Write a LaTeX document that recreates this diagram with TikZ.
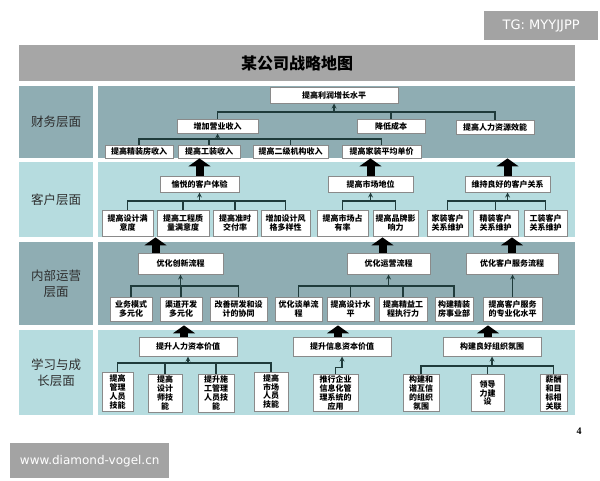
\documentclass[tikz,border=0pt]{standalone}
\usepackage{fontspec}
\setmainfont{Noto Sans CJK SC}
\newfontfamily\wmfont{DejaVu Sans}
\newfontfamily\numfont{Liberation Serif}
\usepackage{tikz}
\usetikzlibrary{positioning}
\usetikzlibrary{calc}
\usetikzlibrary{arrows.meta}

\definecolor{rowdark}{HTML}{8FADB3}
\definecolor{rowlight}{HTML}{B6DCDF}
\definecolor{titlegray}{HTML}{A6A6A6}
\definecolor{wmgray}{HTML}{A3A3A3}
\definecolor{boxgray}{HTML}{8A8A8A}
\definecolor{linedark}{HTML}{1F3B3B}
\definecolor{labeltext}{HTML}{2E2E2E}

\tikzstyle{panel} = [rectangle, anchor=north west, inner sep=0pt]
\tikzstyle{rowlabel} = [panel, text=labeltext, align=center, font={\fontsize{12.5}{16}\selectfont}]
\tikzstyle{box} = [rectangle, draw=boxgray, fill=white, line width=1pt, align=center, inner sep=1pt, font={\fontsize{8}{9.8}\selectfont\bfseries}]
\tikzstyle{tallbox} = [box, font={\fontsize{8}{8.8}\selectfont\bfseries}]
\tikzstyle{conn} = [draw=linedark, line width=1.2pt]
\tikzstyle{arrow} = [conn, ->, >=stealth]
\tikzstyle{bigarrow} = [line width=8pt, -{Triangle[width=22pt, length=8pt]}]
\tikzstyle{wmbox} = [panel, fill=wmgray, text=white]

\begin{document}
\begin{tikzpicture}[x=1pt, y=-1pt]
    \useasboundingbox (0,0) rectangle (600,480);

    % --- Watermarks ---
    \node[wmbox, minimum width=114pt, minimum height=29pt, font={\wmfont\fontsize{13}{15}\selectfont}]
        at (484, 11) (tg_mark) {TG: MYYJJPP};
    \node[wmbox, minimum width=159pt, minimum height=35pt, font={\wmfont\fontsize{12}{14}\selectfont}]
        at (10, 443) (site_mark) {www.diamond-vogel.cn};
    \node[font={\numfont\bfseries\fontsize{10}{12}\selectfont}] at (579, 431) (page_no) {4};

    % --- Title ---
    \node[panel, fill=titlegray, minimum width=556pt, minimum height=36pt,
        font={\fontsize{16}{18}\selectfont\bfseries}] at (19, 45) (title) {某公司战略地图};

    % --- Rows ---
    \node[rowlabel, fill=rowdark, minimum width=74pt, minimum height=72pt] at (19, 86) (fin_label) {财务层面};
    \node[panel, fill=rowdark, minimum width=477pt, minimum height=72pt] at (98, 86) (fin_panel) {};

    \node[rowlabel, fill=rowlight, minimum width=74pt, minimum height=75pt] at (19, 162) (cust_label) {客户层面};
    \node[panel, fill=rowlight, minimum width=477pt, minimum height=75pt] at (98, 162) (cust_panel) {};

    \node[rowlabel, fill=rowdark, minimum width=74pt, minimum height=83pt] at (19, 242) (proc_label) {内部运营\\层面};
    \node[panel, fill=rowdark, minimum width=477pt, minimum height=83pt] at (98, 242) (proc_panel) {};

    \node[rowlabel, fill=rowlight, minimum width=74pt, minimum height=85pt] at (19, 330) (learn_label) {学习与成\\长层面};
    \node[panel, fill=rowlight, minimum width=477pt, minimum height=85pt] at (98, 330) (learn_panel) {};

    % --- Financial ---

    % top goal
    \node[box, minimum width=128pt, minimum height=16pt] at (334, 95) (profit) {提高利润增长水平};

    % middle level
    \node[box, minimum width=81pt, minimum height=14pt] at (217.5, 126) (revenue) {增加营业收入};
    \node[box, minimum width=68pt, minimum height=14pt] at (391, 126) (cost) {降低成本};
    \node[box, minimum width=78pt, minimum height=14pt] at (495, 127) (hr_eff) {提高人力资源效能};

    % bottom level
    \node[box, minimum width=68pt, minimum height=13pt] at (139, 151.5) (fin_a) {提高精装房收入};
    \node[box, minimum width=62pt, minimum height=13pt] at (209, 151.5) (fin_b) {提高工装收入};
    \node[box, minimum width=75pt, minimum height=13pt] at (290.5, 151.5) (fin_c) {提高二级机构收入};
    \node[box, minimum width=79pt, minimum height=13pt] at (381.5, 151.5) (fin_d) {提高家装平均单价};

    % lines from middle level up to profit
    \coordinate (fin_bus1) at (0, 112);
    \draw[conn] (revenue.north) |- (hr_eff.north |- fin_bus1) -- (hr_eff.north);
    \draw[conn] (cost.north) -- (cost.north |- fin_bus1);
    \draw[arrow] (profit.south |- fin_bus1) -- (profit.south);

    % lines from bottom level up to revenue
    \coordinate (fin_bus2) at (0, 139);
    \draw[conn] (fin_a.north) |- (fin_d.north |- fin_bus2) -- (fin_d.north);
    \foreach \n in {fin_b, fin_c} \draw[conn] (\n.north) -- (\n.north |- fin_bus2);
    \draw[arrow] (revenue.south |- fin_bus2) -- (revenue.south);

    % --- Customer ---
    \node[box, minimum width=79pt, minimum height=16pt] at (199.5, 184) (joy) {愉悦的客户体验};
    \node[box, minimum width=85pt, minimum height=16pt] at (370.5, 184) (market) {提高市场地位};
    \node[box, minimum width=85pt, minimum height=16pt] at (507.5, 184) (relation) {维持良好的客户关系};

    \node[box, minimum width=51pt, minimum height=26pt] at (127.5, 223) (cust_a) {提高设计满\\意度};
    \node[box, minimum width=52pt, minimum height=26pt] at (183, 223) (cust_b) {提高工程质\\量满意度};
    \node[box, minimum width=44pt, minimum height=26pt] at (235, 223) (cust_c) {提高准时\\交付率};
    \node[box, minimum width=49pt, minimum height=26pt] at (285.5, 223) (cust_d) {增加设计风\\格多样性};
    \node[box, minimum width=51pt, minimum height=26pt] at (342.5, 223) (cust_e) {提高市场占\\有率};
    \node[box, minimum width=45pt, minimum height=26pt] at (395.5, 223) (cust_f) {提高品牌影\\响力};
    \node[box, minimum width=41pt, minimum height=26pt] at (447.5, 223) (cust_g) {家装客户\\关系维护};
    \node[box, minimum width=45pt, minimum height=26pt] at (495.5, 223) (cust_h) {精装客户\\关系维护};
    \node[box, minimum width=43pt, minimum height=26pt] at (545.5, 223) (cust_i) {工装客户\\关系维护};

    \coordinate (cust_bus) at (0, 201);
    \draw[conn] (cust_a.north) |- (cust_d.north |- cust_bus) -- (cust_d.north);
    \foreach \n in {cust_b, cust_c} \draw[conn] (\n.north) -- (\n.north |- cust_bus);
    \draw[arrow] (joy.south |- cust_bus) -- (joy.south);

    \draw[conn] (cust_e.north) |- (cust_f.north |- cust_bus) -- (cust_f.north);
    \draw[arrow] (market.south |- cust_bus) -- (market.south);

    \draw[conn] (cust_g.north) |- (cust_i.north |- cust_bus) -- (cust_i.north);
    \draw[conn] (cust_h.north) -- (cust_h.north |- cust_bus);
    \draw[arrow] (relation.south |- cust_bus) -- (relation.south);

    % big arrows up to financial
    \foreach \n in {joy, market, relation} \draw[bigarrow] (\n.north) -- (\n.north |- fin_panel.south);

    % --- Internal process ---
    \node[box, minimum width=85pt, minimum height=21pt] at (180.5, 263.5) (innov) {优化创新流程};
    \node[box, minimum width=83pt, minimum height=21pt] at (388.5, 263.5) (ops) {优化运营流程};
    \node[box, minimum width=92pt, minimum height=21pt] at (512, 263.5) (service) {优化客户服务流程};

    \node[box, minimum width=42pt, minimum height=24pt] at (131, 309) (proc_a) {业务模式\\多元化};
    \node[box, minimum width=42pt, minimum height=24pt] at (181, 309) (proc_b) {渠道开发\\多元化};
    \node[box, minimum width=57pt, minimum height=24pt] at (238.5, 309) (proc_c) {改善研发和设\\计的协同};
    \node[box, minimum width=47pt, minimum height=24pt] at (298.5, 309) (proc_d) {优化谈单流\\程};
    \node[box, minimum width=47pt, minimum height=24pt] at (350.5, 309) (proc_e) {提高设计水\\平};
    \node[box, minimum width=48pt, minimum height=24pt] at (403, 309) (proc_f) {提高精益工\\程执行力};
    \node[box, minimum width=38pt, minimum height=24pt] at (454, 309) (proc_g) {构建精装\\房事业部};
    \node[box, minimum width=59pt, minimum height=24pt] at (512.5, 309) (proc_h) {提高客户服务\\的专业化水平};

    \coordinate (proc_bus) at (0, 286);
    \draw[conn] (proc_a.north) |- (proc_c.north |- proc_bus) -- (proc_c.north);
    \draw[conn] (proc_b.north) -- (proc_b.north |- proc_bus);
    \draw[arrow] (innov.south |- proc_bus) -- (innov.south);

    \draw[conn] (proc_d.north) |- (proc_g.north |- proc_bus) -- (proc_g.north);
    \foreach \n in {proc_e, proc_f} \draw[conn] (\n.north) -- (\n.north |- proc_bus);
    \draw[arrow] (ops.south |- proc_bus) -- (ops.south);

    \draw[arrow] (proc_h.north) -- (proc_h.north |- service.south);

    % big arrows up to customer
    \draw[bigarrow] ($(innov.north) + (-25, 0)$) -- ($(innov.north |- cust_panel.south) + (-25, 0)$);
    \draw[bigarrow] ($(ops.north) + (-6, 0)$) -- ($(ops.north |- cust_panel.south) + (-6, 0)$);
    \draw[bigarrow] (service.north) -- (service.north |- cust_panel.south);

    % --- Learning and growth ---
    \node[box, minimum width=98pt, minimum height=19pt] at (188, 346.5) (hc) {提升人力资本价值};
    \node[box, minimum width=98pt, minimum height=19pt] at (342, 346.5) (ic) {提升信息资本价值};
    \node[box, minimum width=98pt, minimum height=19pt] at (492, 346.5) (oc) {构建良好组织氛围};

    \node[tallbox, minimum width=31pt, minimum height=39pt] at (117.5, 392) (learn_a) {提高\\管理\\人员\\技能};
    \node[tallbox, minimum width=34pt, minimum height=38pt] at (165, 393) (learn_b) {提高\\设计\\师技\\能};
    \node[tallbox, minimum width=36pt, minimum height=38pt] at (216, 393) (learn_c) {提升施\\工管理\\人员技\\能};
    \node[tallbox, minimum width=34pt, minimum height=39pt] at (271, 391.5) (learn_d) {提高\\市场\\人员\\技能};
    \node[tallbox, minimum width=45pt, minimum height=36pt] at (335.5, 393) (learn_e) {推行企业\\信息化管\\理系统的\\应用};
    \node[tallbox, minimum width=36pt, minimum height=37pt] at (421, 393) (learn_f) {构建和\\谐互信\\的组织\\氛围};
    \node[tallbox, minimum width=33pt, minimum height=37pt] at (487.5, 393) (learn_g) {领导\\力建\\设};
    \node[tallbox, minimum width=27pt, minimum height=37pt] at (553.5, 393) (learn_h) {薪酬\\和目\\标相\\关联};

    \coordinate (hc_bus) at (0, 363);
    \draw[conn] (learn_a.north) |- (learn_d.north |- hc_bus) -- (learn_d.north);
    \foreach \n in {learn_b, learn_c} \draw[conn] (\n.north) -- (\n.north |- hc_bus);
    \draw[arrow] (hc.south |- hc_bus) -- (hc.south);

    % elbow from learn_e up to ic
    \draw[arrow] (learn_e.north) |- ($(ic.south) + (0, 11)$) -- (ic.south);

    \coordinate (oc_bus) at (0, 366);
    \draw[conn] (learn_f.north) |- (learn_h.north |- oc_bus) -- (learn_h.north);
    \draw[conn] (learn_g.north) -- (learn_g.north |- oc_bus);
    \draw[arrow] (oc.south |- oc_bus) -- (oc.south);

    % big arrows up to internal process
    \foreach \n in {hc, ic, oc} \draw[bigarrow] ($(\n.north) + (-4, 0)$) -- ($(\n.north |- proc_panel.south) + (-4, 0)$);

\end{tikzpicture}
\end{document}
